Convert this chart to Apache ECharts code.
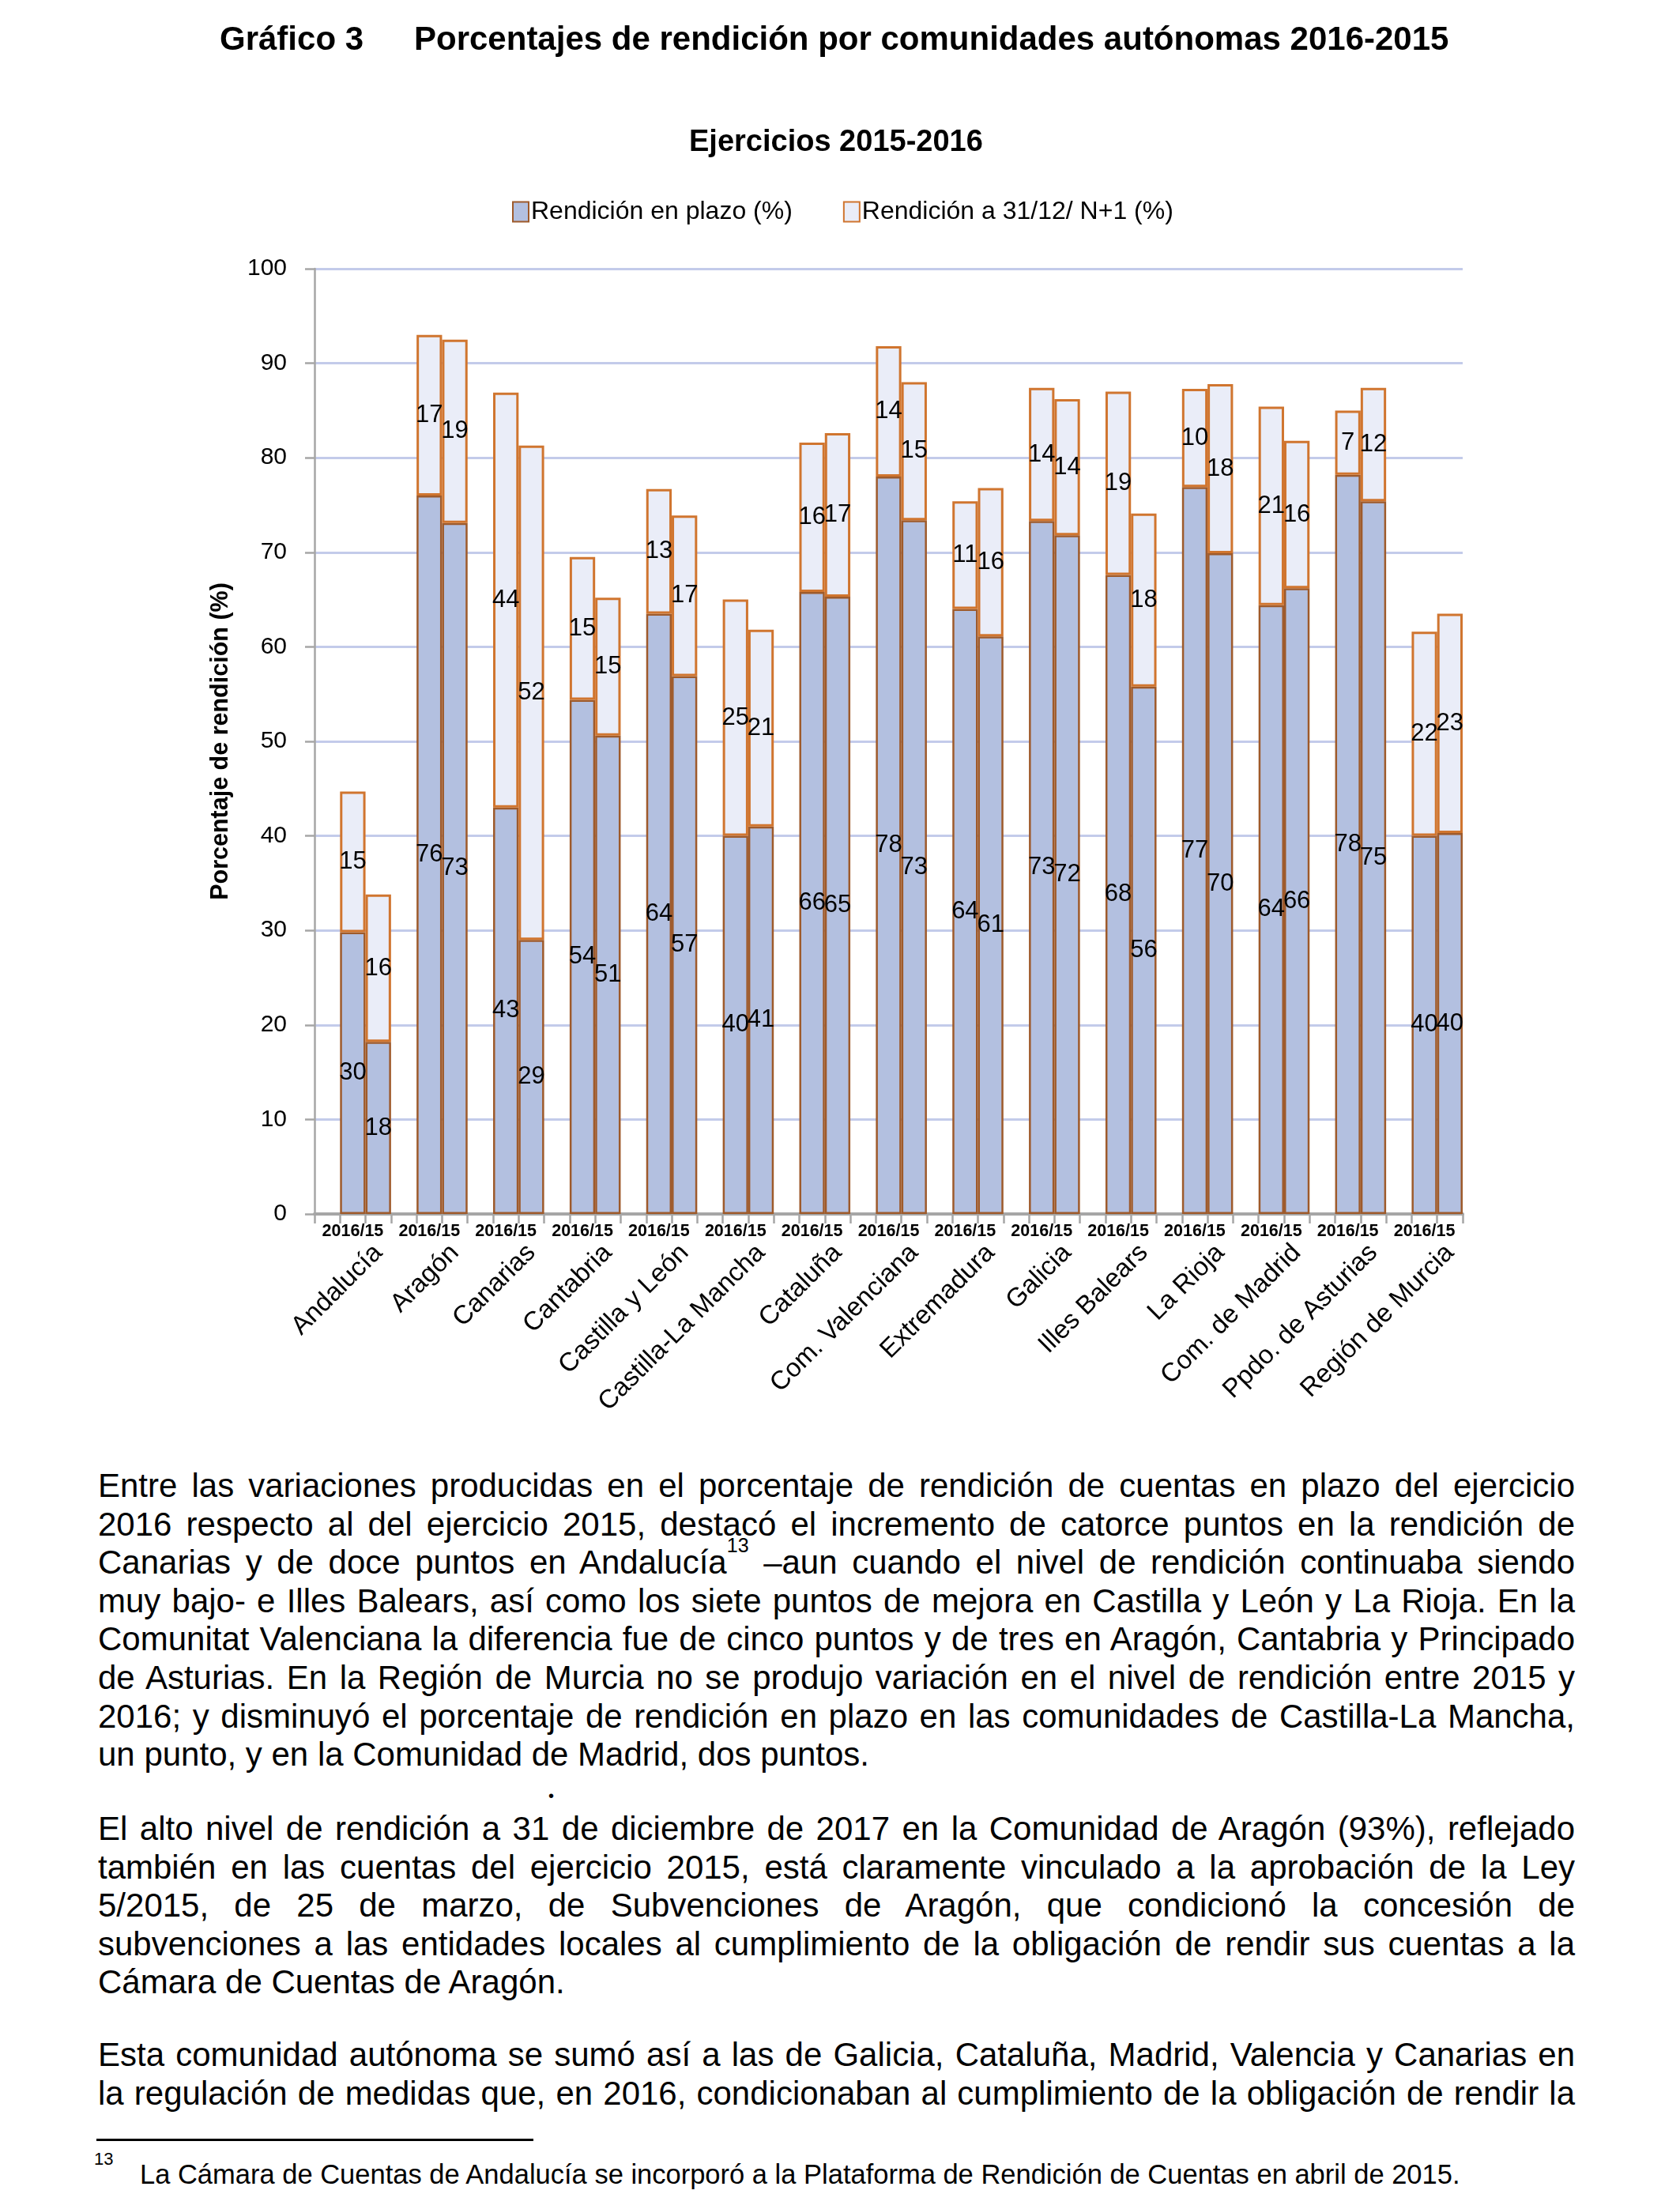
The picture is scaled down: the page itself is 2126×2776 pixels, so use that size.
<!DOCTYPE html>
<html>
<head>
<meta charset="utf-8">
<script src="https://cdn.jsdelivr.net/npm/echarts@6/dist/echarts.min.js"></script>
<style>
html,body{margin:0;padding:0;background:#fff;}
#page{position:relative;width:2126px;height:2776px;overflow:hidden;background:#fff;}
#chart{position:absolute;left:0;top:0;width:2126px;height:1840px;}
.ln{position:absolute;left:124px;width:1869px;font-family:'Liberation Sans',Arial,sans-serif;font-size:42px;line-height:48.6px;height:48.6px;color:#000;overflow:visible;}
.j{text-align:justify;text-align-last:justify;}
.ln sup{font-size:25px;line-height:0;vertical-align:top;position:relative;top:2px;}
#rule{position:absolute;left:122px;top:2706px;width:553px;height:2.5px;background:#000;}
#fnm{position:absolute;left:119px;top:2719px;font-family:'Liberation Sans',Arial,sans-serif;font-size:22px;line-height:26px;}
#fnt{position:absolute;left:177px;top:2730px;font-family:'Liberation Sans',Arial,sans-serif;font-size:34.5px;line-height:42px;white-space:nowrap;}
#dot{position:absolute;left:694px;top:2260px;font-family:'Liberation Sans',Arial,sans-serif;font-size:20px;line-height:24px;}
</style>
</head>
<body>
<div id="page">
<div id="chart"></div>

<div class="ln j" style="top:1856px">Entre las variaciones producidas en el porcentaje de rendición de cuentas en plazo del ejercicio</div>
<div class="ln j" style="top:1904.6px">2016 respecto al del ejercicio 2015, destacó el incremento de catorce puntos en la rendición de</div>
<div class="ln j" style="top:1953.2px">Canarias y de doce puntos en Andalucía<sup>13</sup> –aun cuando el nivel de rendición continuaba siendo</div>
<div class="ln j" style="top:2001.8px">muy bajo- e Illes Balears, así como los siete puntos de mejora en Castilla y León y La Rioja. En la</div>
<div class="ln j" style="top:2050.4px">Comunitat Valenciana la diferencia fue de cinco puntos y de tres en Aragón, Cantabria y Principado</div>
<div class="ln j" style="top:2099px">de Asturias. En la Región de Murcia no se produjo variación en el nivel de rendición entre 2015 y</div>
<div class="ln j" style="top:2147.6px">2016; y disminuyó el porcentaje de rendición en plazo en las comunidades de Castilla-La Mancha,</div>
<div class="ln" style="top:2196.2px">un punto, y en la Comunidad de Madrid, dos puntos.</div>

<div id="dot">•</div>

<div class="ln j" style="top:2290px">El alto nivel de rendición a 31 de diciembre de 2017 en la Comunidad de Aragón (93%), reflejado</div>
<div class="ln j" style="top:2338.6px">también en las cuentas del ejercicio 2015, está claramente vinculado a la aprobación de la Ley</div>
<div class="ln j" style="top:2387.2px">5/2015, de 25 de marzo, de Subvenciones de Aragón, que condicionó la concesión de</div>
<div class="ln j" style="top:2435.8px">subvenciones a las entidades locales al cumplimiento de la obligación de rendir sus cuentas a la</div>
<div class="ln" style="top:2484.4px">Cámara de Cuentas de Aragón.</div>

<div class="ln j" style="top:2576px">Esta comunidad autónoma se sumó así a las de Galicia, Cataluña, Madrid, Valencia y Canarias en</div>
<div class="ln j" style="top:2624.6px">la regulación de medidas que, en 2016, condicionaban al cumplimiento de la obligación de rendir la</div>

<div id="rule"></div>
<div id="fnm">13</div>
<div id="fnt">La Cámara de Cuentas de Andalucía se incorporó a la Plataforma de Rendición de Cuentas en abril de 2015.</div>
</div>

<script>
// ---------------- DATA ----------------
const categories = ['Andalucía','Aragón','Canarias','Cantabria','Castilla y León','Castilla-La Mancha','Cataluña','Com. Valenciana','Extremadura','Galicia','Illes Balears','La Rioja','Com. de Madrid','Ppdo. de Asturias','Región de Murcia'];
const pairLabel = '2016/15';
const seriesNames = ['Rendición en plazo (%)', 'Rendición a 31/12/ N+1 (%)'];
const plazo2016 = [29.8, 76.0, 43.0, 54.4, 63.5, 40.0, 65.8, 78.0, 64.0, 73.3, 67.6, 76.9, 64.4, 78.2, 40.0];
const n1_2016   = [14.9, 17.0, 43.9, 15.1, 13.2, 25.0, 15.8, 13.8, 11.4, 14.1, 19.4, 10.4, 21.0,  6.8, 21.6];
const plazo2015 = [18.2, 73.1, 29.0, 50.6, 56.9, 41.0, 65.3, 73.4, 61.1, 71.8, 55.8, 69.9, 66.2, 75.4, 40.3];
const n1_2015   = [15.6, 19.4, 52.3, 14.6, 17.0, 20.8, 17.3, 14.6, 15.7, 14.4, 18.3, 17.9, 15.6, 12.0, 23.2];
const yMin = 0, yMax = 100, yStep = 10;

// each community: [empty slot, 2016 bar, 2015 bar]
const slots = [], plazoSlots = [], n1Slots = [];
categories.forEach((c, i) => {
  slots.push(c + '|', c + '|2016', c + '|2015');
  plazoSlots.push(null, plazo2016[i], plazo2015[i]);
  n1Slots.push(null, n1_2016[i], n1_2015[i]);
});

const REG = "'Liberation Sans',Arial,sans-serif";

const chart = echarts.init(document.getElementById('chart'), null, {renderer: 'canvas'});
chart.setOption({
  animation: false,
  backgroundColor: 'transparent',
  title: [
    {text: 'Gráfico 3', left: 278, top: 30, padding: 0,
     textStyle: {fontFamily: REG, fontWeight: 'bold', fontSize: 42, color: '#000'}},
    {text: 'Porcentajes de rendición por comunidades autónomas 2016-2015', left: 524, top: 30, padding: 0,
     textStyle: {fontFamily: REG, fontWeight: 'bold', fontSize: 42, color: '#000'}},
    {text: 'Ejercicios 2015-2016', left: 872, top: 162, padding: 0,
     textStyle: {fontFamily: REG, fontWeight: 'bold', fontSize: 38, color: '#000'}}
  ],
  legend: {
    left: 648, top: 252, padding: 0, itemWidth: 20, itemHeight: 25, itemGap: 64,
    icon: 'rect',
    textStyle: {fontFamily: REG, fontSize: 32, color: '#000', padding: [0, 0, 0, -2]},
    data: seriesNames
  },
  grid: {left: 398, right: 275, top: 340, bottom: 304, containLabel: false},
  xAxis: [
    {type: 'category', data: slots, boundaryGap: true,
     axisLine: {show: true, lineStyle: {color: '#A6A6A6', width: 4}},
     axisTick: {show: true, interval: 0, length: 12, lineStyle: {color: '#A6A6A6', width: 2.5}},
     axisLabel: {interval: (i) => i % 3 === 1, formatter: () => pairLabel, margin: 11,
                 fontFamily: REG, fontWeight: 'bold', fontSize: 21.5, color: '#000'},
     splitLine: {show: false}},
    {type: 'category', data: slots, boundaryGap: true, position: 'bottom',
     axisLine: {show: false}, axisTick: {show: false},
     axisLabel: {interval: (i) => i % 3 === 2, rotate: 45, margin: 44,
                 formatter: (v) => v.split('|')[0],
                 fontFamily: REG, fontSize: 33, color: '#000'},
     splitLine: {show: false}}
  ],
  yAxis: {
    type: 'value', min: yMin, max: yMax, interval: yStep,
    axisLine: {show: true, lineStyle: {color: '#A6A6A6', width: 2.5}},
    axisTick: {show: true, length: 12, lineStyle: {color: '#A6A6A6', width: 2.5}},
    splitLine: {show: true, lineStyle: {color: '#C3CBEA', width: 3}},
    axisLabel: {margin: 35, fontFamily: REG, fontSize: 30, color: '#000'},
    name: 'Porcentaje de rendición (%)', nameLocation: 'middle', nameGap: 103,
    nameTextStyle: {fontFamily: REG, fontWeight: 'bold', fontSize: 30.5, color: '#000'}
  },
  series: [
    {name: seriesNames[0], type: 'bar', stack: 'total', data: plazoSlots,
     barCategoryGap: '0%', xAxisIndex: 0,
     itemStyle: {color: '#B3C0E0', borderColor: '#9E5A2B', borderWidth: 2.5},
     label: {show: true, position: 'inside', formatter: (p) => Math.round(p.value),
             fontFamily: REG, fontSize: 31, color: '#000', textBorderWidth: 0}},
    {name: seriesNames[1], type: 'bar', stack: 'total', data: n1Slots,
     barCategoryGap: '0%', xAxisIndex: 0,
     itemStyle: {color: '#EAEDF8', borderColor: '#D0752F', borderWidth: 3},
     label: {show: true, position: 'inside', formatter: (p) => Math.round(p.value),
             fontFamily: REG, fontSize: 31, color: '#000', textBorderWidth: 0}}
  ]
});
</script>
</body>
</html>
